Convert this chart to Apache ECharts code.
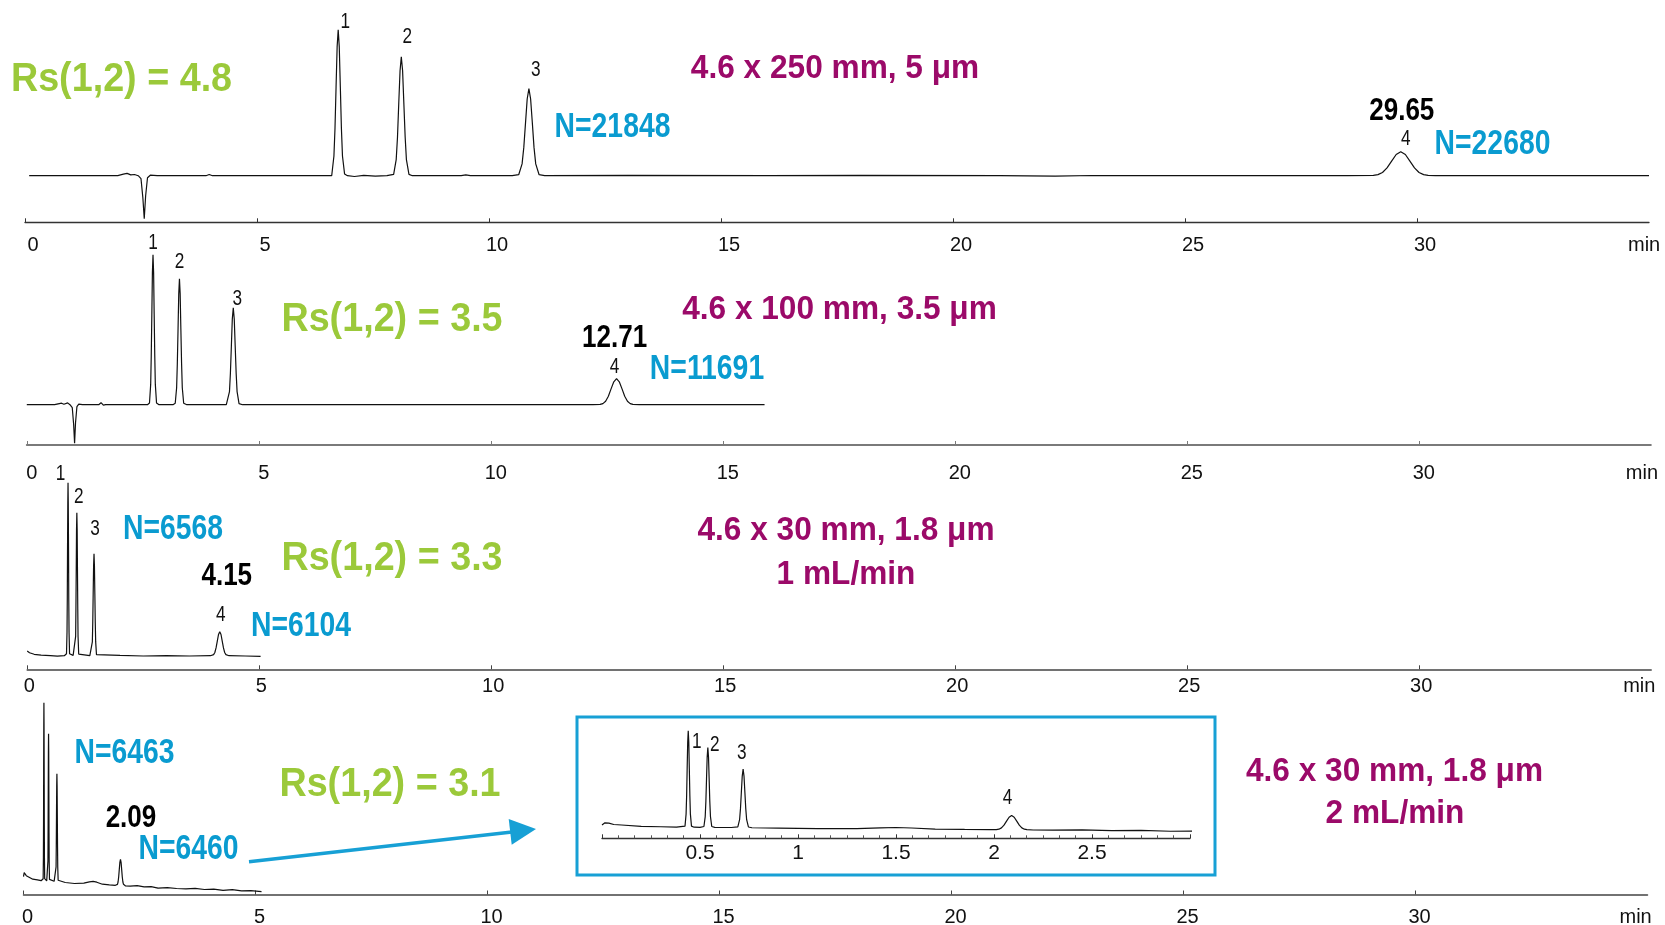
<!DOCTYPE html>
<html>
<head>
<meta charset="utf-8">
<title>Column length and particle size comparison</title>
<script src="https://cdn.jsdelivr.net/npm/echarts@6/dist/echarts.min.js"></script>
<style>
  html, body { margin: 0; padding: 0; background: #fff; }
  #chart { width: 1665px; height: 925px; }
</style>
</head>
<body>
<div id="chart"></div>
<script>
// ---------------- data ----------------
const timeTicks = [0, 5, 10, 15, 20, 25, 30];      // min
const insetTicks = [0.5, 1, 1.5, 2, 2.5];           // min
const peakNumbers = ['1', '2', '3', '4'];

// 4.6 x 250 mm, 5 µm — retention times (min), apex heights (mAU), trace [min, mAU]
const rt250 = [6.75, 8.11, 10.86, 29.65];
const apex250 = [146, 119, 87, 24];
const trace250 = [
  [0.09,0],[1.2,0.2],[2.0,0],[2.12,1.5],[2.2,2.3],[2.28,0.8],[2.36,1.2],[2.44,0],[2.5,-3],[2.54,-22],[2.57,-43],[2.6,-20],[2.64,-2],[2.7,0.5],[2.85,0],
  [3.9,0],[3.97,1.2],[4.04,0],[5.5,0.2],
  [6.61,0],[6.658,19.7],[6.681,47.4],[6.704,88.6],[6.727,128.8],[6.75,146],[6.773,128.8],[6.796,88.6],[6.819,47.4],[6.842,19.7],[6.888,1.6],[6.95,0],
  [7.1,-0.8],[7.3,0.3],[7.55,-0.5],[7.8,0],
  [7.945,1.3],[8.0,16.1],[8.028,38.7],[8.055,72.2],[8.083,105],[8.11,119],[8.138,105],[8.165,72.2],[8.193,38.7],[8.22,16.1],[8.275,1.3],[8.35,0],
  [9.4,0],[9.5,0.8],[9.6,0],[10.5,0],
  [10.64,1],[10.713,11.8],[10.75,28.3],[10.787,52.8],[10.823,76.7],[10.86,87],[10.897,76.7],[10.934,52.8],[10.97,28.3],[11.007,11.8],[11.08,1],[11.2,0],
  [13,0.3],[16,0],[18,0.3],[21,0],[22.2,-0.4],[23,0.2],[26,0],[28.5,0],
  [29.06,0.3],[29.158,1.05],[29.256,3.2],[29.354,7.8],[29.453,14.6],[29.551,21.2],[29.65,24],[29.749,21.2],[29.847,14.6],[29.946,7.8],[30.044,3.2],[30.143,1.05],[30.24,0.3],[30.4,0],
  [32,0.2],[35,0]
];

// 4.6 x 100 mm, 3.5 µm
const rt100 = [2.72, 3.29, 4.45, 12.71];
const apex100 = [150, 126, 97, 26];
const trace100 = [
  [0,0],[0.6,0],[0.75,1.5],[0.8,0.5],[0.88,1.8],[0.93,0],[0.98,-3],[1.01,-20],[1.03,-38.5],[1.05,-18],[1.08,-2],[1.12,0.5],[1.2,0],
  [1.55,0],[1.6,2],[1.65,-0.5],[1.7,0],[2.6,0],
  [2.644,1.7],[2.67,20.3],[2.682,48.8],[2.695,91],[2.707,132.3],[2.72,150],[2.733,132.3],[2.745,91],[2.758,48.8],[2.77,20.3],[2.796,1.7],[2.85,0],[3.15,0],
  [3.199,1.4],[3.229,17],[3.244,41],[3.26,76.5],[3.275,111.1],[3.29,126],[3.305,111.1],[3.32,76.5],[3.336,41],[3.351,17],[3.381,1.4],[3.45,0],
  [3.83,0],[3.87,1],[3.91,0],[4.3,0],
  [4.326,1.1],[4.368,13.1],[4.388,31.5],[4.409,58.9],[4.429,85.6],[4.45,97],[4.471,85.6],[4.491,58.9],[4.512,31.5],[4.532,13.1],[4.574,1.1],[4.65,0],
  [7,0],[10,0.2],[12.2,0],
  [12.357,0.3],[12.416,1.1],[12.475,3.5],[12.534,8.5],[12.592,15.8],[12.651,22.9],[12.71,26],[12.769,22.9],[12.828,15.8],[12.886,8.5],[12.945,3.5],[13.004,1.1],[13.063,0.3],[13.2,0],
  [15.9,0]
];

// 4.6 x 30 mm, 1.8 µm at 1 mL/min
const rt30a = [0.88, 1.07, 1.44, 4.15];
const apex30a = [173, 143, 102, 24];
const trace30a = [
  [0,4.7],[0.05,3],[0.15,1.4],[0.3,0.5],[0.5,0],[0.65,-0.5],[0.8,0],
  [0.847,1.9],[0.858,23.4],[0.864,56.2],[0.869,105],[0.875,152.6],[0.88,173],[0.885,152.6],[0.891,105],[0.896,56.2],[0.902,23.4],[0.913,1.9],[0.93,0],[0.99,0.3],
  [1.03,1.6],[1.044,19.3],[1.05,46.5],[1.057,86.8],[1.063,126.1],[1.07,143],[1.077,126.1],[1.083,86.8],[1.09,46.5],[1.096,19.3],[1.11,1.6],[1.13,0],[1.35,0],
  [1.387,1.1],[1.404,13.8],[1.413,33.1],[1.422,61.9],[1.431,90],[1.44,102],[1.449,90],[1.458,61.9],[1.467,33.1],[1.476,13.8],[1.493,1.1],[1.52,0],
  [2.0,0.3],[2.5,-0.3],[3.0,0],[3.5,-0.3],[3.95,0],
  [3.991,0.3],[4.017,1.05],[4.044,3.2],[4.07,7.8],[4.097,14.6],[4.123,21.2],[4.15,24],[4.177,21.2],[4.203,14.6],[4.23,7.8],[4.256,3.2],[4.283,1.05],[4.309,0.3],[4.35,0],
  [4.7,-0.3],[5.03,-0.6]
];

// 4.6 x 30 mm, 1.8 µm at 2 mL/min (also shown enlarged in the inset)
const rt30b = [0.44, 0.54, 0.72, 2.09];
const apex30b = [174, 143, 103, 17.4];
const trace30b = [
  [0,0],[0.015,4],[0.035,3.5],[0.06,1],[0.1,0],[0.2,-2.5],[0.3,-3.2],[0.38,-4],
  [0.4235,-2],[0.429,20],[0.4318,53.9],[0.4345,104],[0.4373,153],[0.44,174],[0.4428,153],[0.4455,104],[0.4483,53.9],[0.451,20],[0.4565,-2],[0.47,-4],[0.5,-4.2],
  [0.52,-2.7],[0.5266,15.6],[0.53,43.6],[0.5333,85.1],[0.5366,125.6],[0.54,143],[0.5434,125.6],[0.5467,85.1],[0.55,43.6],[0.5534,15.6],[0.56,-2.7],[0.575,-4.3],[0.66,-4.6],
  [0.693,-3.6],[0.702,9.8],[0.7065,30.2],[0.711,60.6],[0.7155,90.3],[0.72,103],[0.7245,90.3],[0.729,60.6],[0.7335,30.2],[0.738,9.8],[0.747,-3.6],[0.765,-5],
  [0.9,-5.8],[1.1,-6.8],[1.3,-6.5],[1.42,-5.2],[1.5,-4.6],[1.58,-5.5],[1.7,-7.5],[1.85,-8.2],[1.98,-8.6],
  [2.012,-8.5],[2.025,-7.65],[2.038,-5.3],[2.051,-0.3],[2.064,7.1],[2.077,14.3],[2.09,17.4],[2.103,14.3],[2.116,7.1],[2.129,-0.3],[2.142,-5.3],[2.155,-7.65],[2.168,-8.5],[2.2,-9.2],
  [2.3,-9.5],[2.45,-9],[2.6,-10.2],[2.75,-10],[2.9,-11.5],[3.1,-11],[3.3,-11.8],[3.5,-12.2],[3.7,-11.6],[3.9,-12.8],[4.1,-12.4],[4.3,-13.6],[4.5,-13],[4.7,-14.2],[4.9,-14],[5.13,-15]
];

// ---------------- layout & styles ----------------
const SANS = '"Liberation Sans", Arial, sans-serif';
const INK = '#111';
const GREEN = '#9bc93a';
const BLUE = '#0a9bd0';
const MAGENTA = '#9b0a69';
const FRAME = '#17a0d5';

const PX_PER_MIN = 46.4;
const panelLayout = [
  { left: 25.0, top: 19.8,  yMin: -46.6, yMax: 155.9, axisColor: '#333',    axisWidth: 1.3, labelMargin: 13.5, labelShift: 8, nameGap: -21, nameDrop: 23.5 },
  { left: 26.8, top: 242.5, yMin: -40.3, yMax: 162.2, axisColor: '#7a7a7a', axisWidth: 2,   labelMargin: 18,   labelShift: 5, nameGap: -25, nameDrop: 28 },
  { left: 27.2, top: 466.8, yMin: -13.6, yMax: 188.9, axisColor: '#444',    axisWidth: 1.5, labelMargin: 7,    labelShift: 2, nameGap: -28, nameDrop: 17.5 },
  { left: 23.5, top: 692.0, yMin: -17.8, yMax: 184.7, axisColor: '#444',    axisWidth: 1.5, labelMargin: 12.5, labelShift: 4, nameGap: -28, nameDrop: 22.5 }
];
const PANEL_HEIGHT = 202.5;
const insetLayout = { left: 602, top: 720, width: 588, height: 118.3, yMin: -24.5, yMax: 193.7 };

// label offsets [dx, dy] from each peak apex, in px
const numberOffsets = [
  [[7, -8], [6, -20], [7, -19], [5, -13]],
  [[0, -12], [0, -17], [4, -9], [-2, -12]],
  [[-7.5, -9], [2, -16], [1, -25], [1, -17]],
  null
];
const rtOffsets = [[1, -40], [-2, -40], [7, -55], [10.5, -41]];
const insetNumberOffsets = [[8.5, 11], [7, -2], [-1.4, -16], [-4, -18]];

const panels = [
  { trace: trace250, rt: rt250, apex: apex250 },
  { trace: trace100, rt: rt100, apex: apex100 },
  { trace: trace30a, rt: rt30a, apex: apex30a },
  { trace: trace30b, rt: rt30b, apex: apex30b }
];

// ---------------- option ----------------
const grid = [];
const xAxis = [];
const yAxis = [];
const series = [];

panels.forEach((p, i) => {
  const L = panelLayout[i];
  grid.push({ left: L.left, top: L.top, width: 35 * PX_PER_MIN, height: PANEL_HEIGHT, outerBoundsMode: 'none', containLabel: false });
  xAxis.push({
    type: 'value', gridIndex: i, min: 0, max: 35, interval: 5,
    axisLine: { show: true, onZero: false, lineStyle: { color: L.axisColor, width: L.axisWidth } },
    axisTick: { show: true, inside: true, length: 4, customValues: timeTicks, lineStyle: { color: L.axisColor, width: 1 } },
    axisLabel: {
      show: true, customValues: timeTicks, margin: L.labelMargin,
      padding: [0, 0, 0, 2 * L.labelShift],
      fontFamily: SANS, fontSize: 20, color: INK
    },
    splitLine: { show: false },
    name: 'min', nameLocation: 'end', nameGap: L.nameGap,
    nameTextStyle: { fontFamily: SANS, fontSize: 20, color: INK, align: 'left', verticalAlign: 'top', lineHeight: 2 * L.nameDrop }
  });
  yAxis.push({ type: 'value', gridIndex: i, min: L.yMin, max: L.yMax, show: false });

  series.push({
    type: 'line', xAxisIndex: i, yAxisIndex: i, data: p.trace,
    showSymbol: false, symbol: 'none', silent: true, z: 3,
    lineStyle: { color: INK, width: 1.2 }
  });
});

// inset: enlarged 2 mL/min run
grid.push({ left: insetLayout.left, top: insetLayout.top, width: insetLayout.width, height: insetLayout.height, outerBoundsMode: 'none', containLabel: false });
xAxis.push({
  type: 'value', gridIndex: 4, min: 0, max: 3, interval: 0.5,
  axisLine: { show: true, onZero: false, lineStyle: { color: '#333', width: 1.3 } },
  axisTick: { show: true, inside: true, length: 4, lineStyle: { color: '#333' } },
  minorTick: { show: true, splitNumber: 6, length: 3, lineStyle: { color: '#555' } },
  axisLabel: { show: true, customValues: insetTicks, margin: 4, fontFamily: SANS, fontSize: 21, color: INK },
  splitLine: { show: false }
});
yAxis.push({ type: 'value', gridIndex: 4, min: insetLayout.yMin, max: insetLayout.yMax, show: false });
series.push({
  type: 'line', xAxisIndex: 4, yAxisIndex: 4, data: trace30b,
  showSymbol: false, symbol: 'none', silent: true, z: 3, clip: true,
  lineStyle: { color: INK, width: 1.2 }
});

const chart = echarts.init(document.getElementById('chart'), null, { renderer: 'canvas', width: 1665, height: 925 });
chart.setOption({ backgroundColor: '#fff', animation: false, grid, xAxis, yAxis, series });

// ---------------- annotation text ----------------
// condensed look: regular faces squeezed horizontally
const textStyles = {
  rs:   { fill: GREEN,   fontSize: 41,   weight: 'bold',   scaleX: 0.92 },
  col:  { fill: MAGENTA, fontSize: 34,   weight: 'bold',   scaleX: 0.93 },
  n:    { fill: BLUE,    fontSize: 35,   weight: 'bold',   scaleX: 0.81 },
  rt:   { fill: '#000',  fontSize: 31,   weight: 'bold',   scaleX: 0.84 },
  peak: { fill: INK,     fontSize: 21.5, weight: 'normal', scaleX: 0.8 }
};
function textEl(text, x, y, kind) {
  const s = textStyles[kind];
  return {
    type: 'text', x, y, scaleX: s.scaleX, silent: true, z: 10,
    style: { text, fill: s.fill, fontFamily: SANS, fontWeight: s.weight, fontSize: s.fontSize, align: 'center', verticalAlign: 'middle' }
  };
}

const notes = [
  ['Rs(1,2) = 4.8', 121.5, 80, 'rs'],
  ['4.6 x 250 mm, 5 μm', 835, 68.8, 'col'],
  ['N=21848', 612.5, 127.5, 'n'],
  ['N=22680', 1492.5, 144.7, 'n'],
  ['Rs(1,2) = 3.5', 392, 320, 'rs'],
  ['4.6 x 100 mm, 3.5 μm', 839.5, 310, 'col'],
  ['N=11691', 707, 369, 'n'],
  ['N=6568', 173, 529, 'n'],
  ['N=6104', 301, 626, 'n'],
  ['Rs(1,2) = 3.3', 392, 559, 'rs'],
  ['4.6 x 30 mm, 1.8 μm', 846, 531, 'col'],
  ['1 mL/min', 846, 574.5, 'col'],
  ['N=6463', 124.5, 753.3, 'n'],
  ['N=6460', 188.5, 849.2, 'n'],
  ['Rs(1,2) = 3.1', 390, 785, 'rs'],
  ['4.6 x 30 mm, 1.8 μm', 1394.5, 771.7, 'col'],
  ['2 mL/min', 1395, 814, 'col']
];
const graphic = notes.map(([text, x, y, kind]) => textEl(text, x, y, kind));

// peak numbers and retention times, anchored at each peak apex through the axes
panels.forEach((p, i) => {
  const toPx = (t, a) => chart.convertToPixel({ gridIndex: i }, [t, a]);
  if (numberOffsets[i]) {
    p.rt.forEach((t, k) => {
      const [px, py] = toPx(t, p.apex[k]);
      graphic.push(textEl(peakNumbers[k], px + numberOffsets[i][k][0], py + numberOffsets[i][k][1], 'peak'));
    });
  }
  const [rx, ry] = toPx(p.rt[3], p.apex[3]);
  graphic.push(textEl(p.rt[3].toFixed(2), rx + rtOffsets[i][0], ry + rtOffsets[i][1], 'rt'));
});
rt30b.forEach((t, k) => {
  const [px, py] = chart.convertToPixel({ gridIndex: 4 }, [t, apex30b[k]]);
  graphic.push(textEl(peakNumbers[k], px + insetNumberOffsets[k][0], py + insetNumberOffsets[k][1], 'peak'));
});

// frame around the inset and the arrow pointing to it
graphic.push({ type: 'rect', silent: true, z: 9, shape: { x: 577, y: 717, width: 638, height: 158 }, style: { fill: 'none', stroke: FRAME, lineWidth: 3 } });
graphic.push({ type: 'line', silent: true, z: 9, shape: { x1: 249, y1: 861.7, x2: 512, y2: 832 }, style: { stroke: FRAME, lineWidth: 3.5 } });
graphic.push({ type: 'polygon', silent: true, z: 9, shape: { points: [[536, 829], [511.7, 844.8], [508.7, 819]] }, style: { fill: FRAME } });

chart.setOption({ graphic });
</script>
</body>
</html>
